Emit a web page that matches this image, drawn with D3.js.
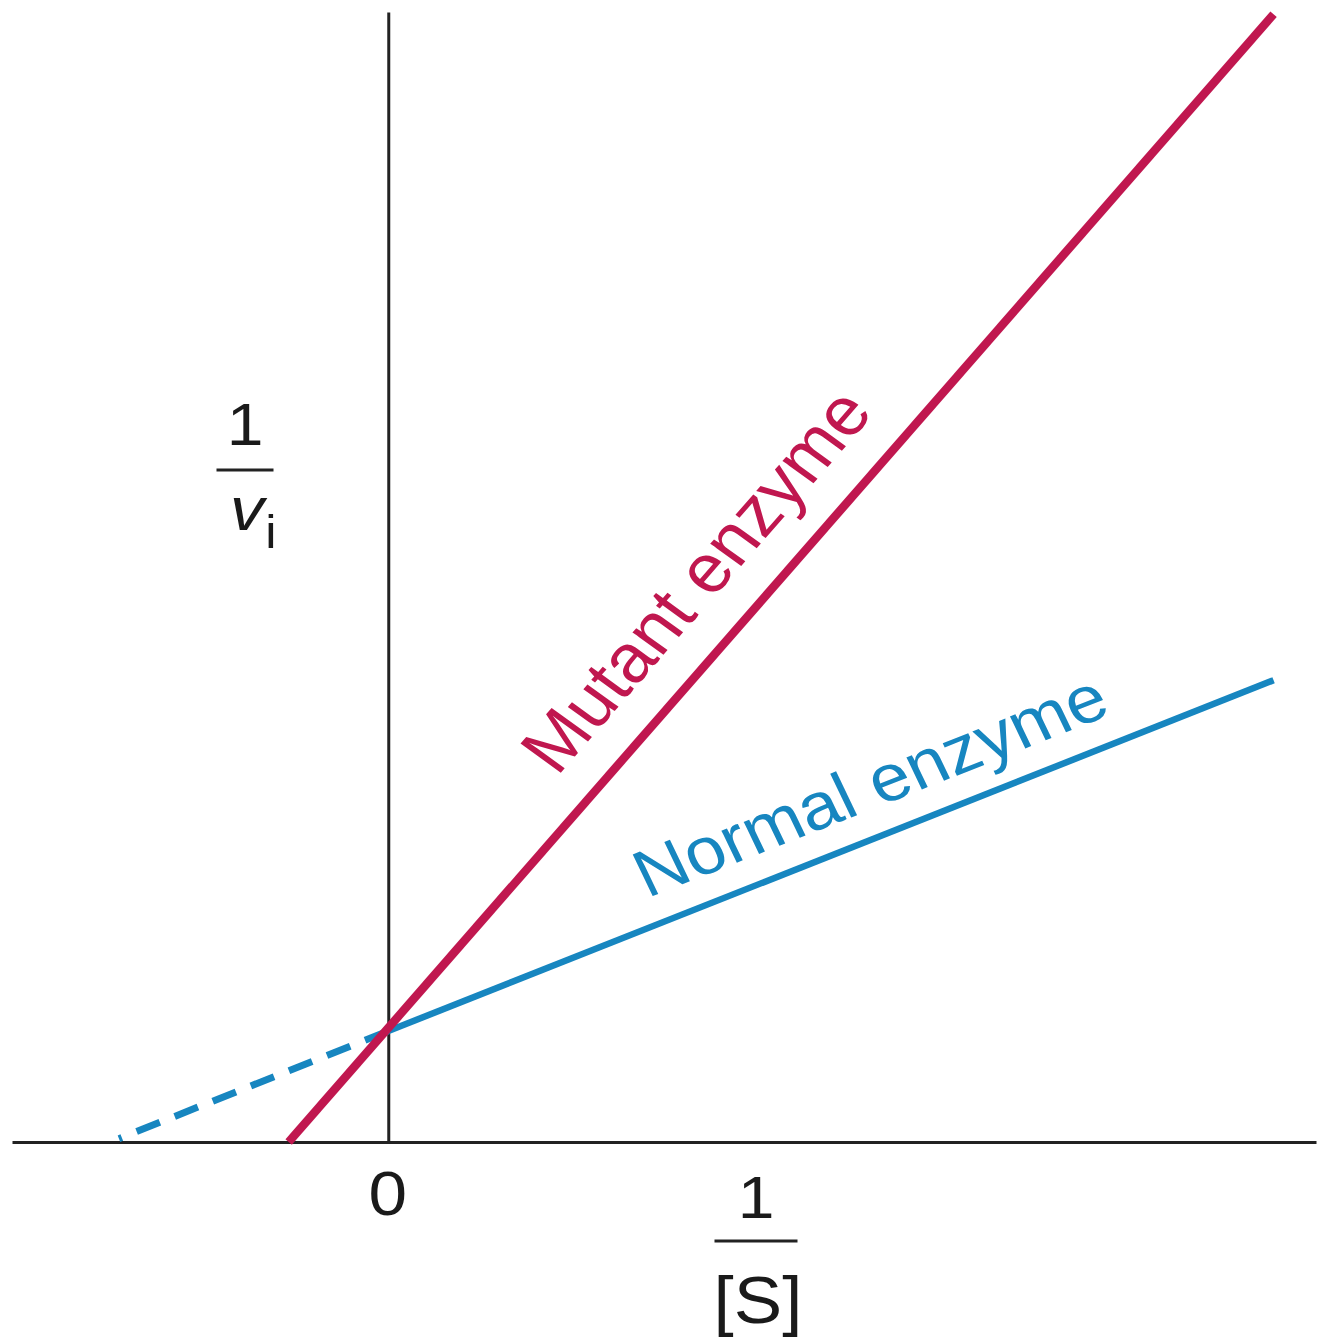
<!DOCTYPE html>
<html>
<head>
<meta charset="utf-8">
<script src="https://cdn.jsdelivr.net/npm/d3@7"></script>
<style>
  html, body { margin: 0; padding: 0; background: #fff; }
  svg { display: block; }
  text { font-family: "Liberation Sans", Arial, Helvetica, sans-serif; }
</style>
</head>
<body>
<svg id="chart" width="1319" height="1338"></svg>
<script>
// Lineweaver–Burk plot: 1/v_i against 1/[S] for a normal and a mutant enzyme
const xDomain = [-1.02, 2.515];          // 1/[S]
const yDomain = [0, 10.18];              // 1/v_i
const xTickValues = [0];
const xTickLabels = ["0"];

// straight-line segments (endpoints)
const mutantLine   = [{x: -0.27, y: 0}, {x: 2.40, y: 10.16}];
const normalLine   = [{x: 0, y: 1}, {x: 2.40, y: 4.16}];
const normalExtrap = [{x: 0, y: 1}, {x: -0.73, y: 0.03}];

const seriesNames = ["Mutant enzyme", "Normal enzyme"];
const seriesColors = {"Mutant enzyme": "#c0174f", "Normal enzyme": "#1786c0"};

const STRETCH = 1.1;   // typeface is set slightly wide
const FONT = "Liberation Sans, Arial, sans-serif";

const svg = d3.select("#chart");
const x = d3.scaleLinear().domain(xDomain).range([12, 1316]);
const y = d3.scaleLinear().domain(yDomain).range([1142, 12]);

// axes through the origin, no tick marks
const xAxis = d3.axisBottom(x).tickValues(xTickValues)
  .tickFormat((d, i) => xTickLabels[i]).tickSize(0).tickSizeOuter(0);
const gx = svg.append("g").attr("transform", `translate(0,${y(0)})`).call(xAxis);
gx.select(".domain").attr("stroke", "#222").attr("stroke-width", 3);
gx.selectAll(".tick text")
  .attr("y", 0).attr("dy", null)
  .attr("transform", `translate(-1,73) scale(${STRETCH},1)`)
  .attr("font-size", 63).attr("font-family", FONT).attr("fill", "#1a1a1a");

const yAxis = d3.axisLeft(y).tickValues([]).tickSize(0).tickSizeOuter(0);
const gy = svg.append("g").attr("transform", `translate(${x(0)},0)`).call(yAxis);
gy.select(".domain").attr("stroke", "#222").attr("stroke-width", 3);

const line = d3.line().x(d => x(d.x)).y(d => y(d.y));

// dashed extrapolation of the normal enzyme towards its x-intercept
svg.append("path").datum(normalExtrap)
  .attr("d", line).attr("fill", "none")
  .attr("stroke", seriesColors["Normal enzyme"]).attr("stroke-width", 7)
  .attr("stroke-dasharray", "25,16");

svg.append("path").datum(normalLine)
  .attr("d", line).attr("fill", "none")
  .attr("stroke", seriesColors["Normal enzyme"]).attr("stroke-width", 6.5);

svg.append("path").datum(mutantLine)
  .attr("d", line).attr("fill", "none")
  .attr("stroke", seriesColors["Mutant enzyme"]).attr("stroke-width", 8.5);

// labels laid along each line
function lineLabel(seg, text, atX, offset, size, color) {
  const [a, b] = seg.map(d => [x(d.x), y(d.y)]);
  const dx = b[0] - a[0], dy = b[1] - a[1];
  const len = Math.hypot(dx, dy);
  const ux = dx / len, uy = dy / len;
  const t = (x(atX) - a[0]) / dx;
  const px = a[0] + t * dx, py = a[1] + t * dy;
  const nx = uy, ny = -ux;
  const sign = ny < 0 ? 1 : -1;
  const ax = px + sign * nx * offset, ay = py + sign * ny * offset;
  const ang = Math.atan2(dy, dx / STRETCH) * 180 / Math.PI;
  svg.append("text")
    .attr("transform", `translate(${ax},${ay}) scale(${STRETCH},1) rotate(${ang})`)
    .attr("font-size", size).attr("font-family", FONT)
    .attr("fill", color).attr("text-anchor", "start")
    .text(text);
}
const segs = [mutantLine, normalLine];
lineLabel(segs[0], seriesNames[0], 0.535, 38, 68, seriesColors[seriesNames[0]]);
lineLabel(segs[1], seriesNames[1], 0.73, 28, 66, seriesColors[seriesNames[1]]);

// axis titles as stacked fractions
function fraction(cx, numY, barY, barHalf) {
  svg.append("text")
    .attr("transform", `translate(${cx},${numY}) scale(${STRETCH},1)`)
    .attr("font-size", 60).attr("font-family", FONT).attr("fill", "#1a1a1a")
    .attr("text-anchor", "middle").text("1");
  svg.append("line")
    .attr("x1", cx - barHalf).attr("x2", cx + barHalf)
    .attr("y1", barY).attr("y2", barY)
    .attr("stroke", "#222").attr("stroke-width", 3);
}

// y: 1 / v_i
fraction(245, 445, 470, 28.5);
const vt = svg.append("text")
  .attr("transform", `translate(230,530) scale(${STRETCH},1)`)
  .attr("font-family", FONT).attr("fill", "#1a1a1a");
vt.append("tspan").attr("font-size", 62).attr("font-style", "italic").text("v");
vt.append("tspan").attr("font-size", 46).attr("dy", 18).attr("dx", 1).text("i");

// x: 1 / [S]
fraction(756, 1218, 1241, 41.5);
svg.append("text")
  .attr("transform", `translate(758,1323) scale(${STRETCH},1)`)
  .attr("font-size", 66).attr("font-family", FONT).attr("fill", "#1a1a1a")
  .attr("text-anchor", "middle").text("[S]");
</script>
</body>
</html>
